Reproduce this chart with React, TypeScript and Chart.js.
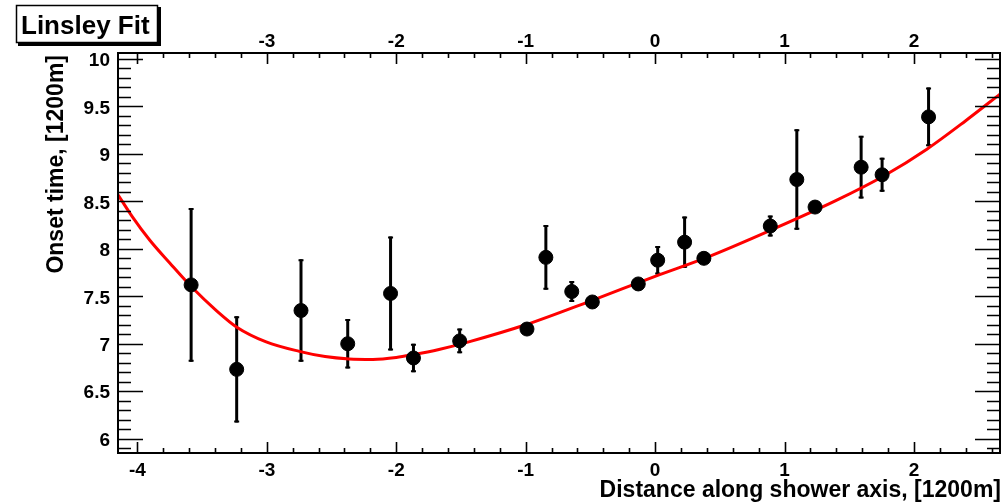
import React, { useEffect, useRef } from "react";
import { Chart, registerables } from "chart.js";

Chart.register(...registerables);

// ---- data ----
const pointX = [-3.585, -3.233, -2.736, -2.375, -2.044, -1.867, -1.51, -0.99, -0.844, -0.644, -0.485, -0.13, 0.02, 0.228, 0.377, 0.89, 1.095, 1.236, 1.592, 1.754, 2.113];
const pointY = [7.62, 6.73, 7.35, 7.0, 7.53, 6.85, 7.03, 7.155, 7.91, 7.55, 7.44, 7.63, 7.88, 8.07, 7.9, 8.24, 8.73, 8.44, 8.86, 8.78, 9.39];
const pointErr = [0.81, 0.56, 0.54, 0.26, 0.6, 0.15, 0.13, 0.03, 0.34, 0.11, 0.04, 0.04, 0.15, 0.27, 0.04, 0.11, 0.53, 0.04, 0.33, 0.18, 0.31];

const fitX = [-4.15, -4.04, -3.904, -3.75, -3.583, -3.39, -3.232, -3.005, -2.749, -2.55, -2.364, -2.18, -2.0, -1.87, -1.67, -1.44, -1.0, -0.5, 0.0, 0.4, 0.9, 1.4, 1.77, 2.1, 2.4, 2.665];
const fitY = [8.57, 8.34, 8.09, 7.85, 7.6, 7.35, 7.175, 7.02, 6.92, 6.865, 6.84, 6.835, 6.855, 6.885, 6.94, 7.02, 7.2, 7.45, 7.71, 7.91, 8.2, 8.51, 8.77, 9.05, 9.35, 9.63];

const xMajorTicks = [-4, -3, -2, -1, 0, 1, 2];
const xTickLabels = ["-4", "-3", "-2", "-1", "0", "1", "2"];
const xTopTicks = [-3, -2, -1, 0, 1, 2];
const xTopLabels = ["-3", "-2", "-1", "0", "1", "2"];
const yMajorTicks = [6, 6.5, 7, 7.5, 8, 8.5, 9, 9.5, 10];
const yTickLabels = ["6", "6.5", "7", "7.5", "8", "8.5", "9", "9.5", "10"];

const titleText = "Linsley Fit";
const xTitle = "Distance along shower axis, [1200m]";
const yTitle = "Onset time, [1200m]";

const X_MIN = -4.15;
const X_MAX = 2.665;
const Y_MIN = 5.849;
const Y_MAX = 10.063;

const FONT = '"Liberation Sans", Arial, Helvetica, sans-serif';

const rootPlugin = {
  id: "rootPlugin",
  beforeDatasetsDraw(chart: any) {
    const ctx = chart.ctx;
    const xs = chart.scales.x;
    const ys = chart.scales.y;
    ctx.save();
    ctx.strokeStyle = "#000";
    ctx.lineCap = "butt";
    for (let i = 0; i < pointX.length; i++) {
      const px = xs.getPixelForValue(pointX[i]);
      const top = ys.getPixelForValue(pointY[i] + pointErr[i]);
      const bot = ys.getPixelForValue(pointY[i] - pointErr[i]);
      ctx.lineWidth = 3;
      ctx.beginPath();
      ctx.moveTo(px, top);
      ctx.lineTo(px, bot);
      ctx.stroke();
      ctx.lineWidth = 2;
      ctx.beginPath();
      ctx.moveTo(px - 2.5, top + 1);
      ctx.lineTo(px + 2.5, top + 1);
      ctx.moveTo(px - 2.5, bot - 1);
      ctx.lineTo(px + 2.5, bot - 1);
      ctx.stroke();
    }
    ctx.restore();
  },
  afterDraw(chart: any) {
    const ctx = chart.ctx;
    const xs = chart.scales.x;
    const ys = chart.scales.y;
    const a = chart.chartArea;
    ctx.save();
    ctx.strokeStyle = "#000";
    ctx.fillStyle = "#000";

    // ticks
    ctx.lineWidth = 1.6;
    ctx.beginPath();
    for (let k = 59; k <= 100; k++) {
      const v = k / 10;
      if (v < Y_MIN || v > Y_MAX) continue;
      const py = Math.round(ys.getPixelForValue(v)) + 0.5;
      const major = k % 5 === 0;
      const len = major ? 25 : 13;
      ctx.moveTo(a.left, py);
      ctx.lineTo(a.left + len, py);
      ctx.moveTo(a.right, py);
      ctx.lineTo(a.right - len, py);
    }
    for (let k = -20; k <= 13; k++) {
      const v = k / 5;
      if (v < X_MIN || v > X_MAX) continue;
      const px = Math.round(xs.getPixelForValue(v)) + 0.5;
      const major = k % 5 === 0;
      const len = major ? 11 : 5;
      ctx.moveTo(px, a.bottom);
      ctx.lineTo(px, a.bottom - len);
      ctx.moveTo(px, a.top);
      ctx.lineTo(px, a.top + len);
    }
    ctx.stroke();

    // frame
    ctx.lineWidth = 2;
    ctx.strokeRect(a.left, a.top, a.right - a.left, a.bottom - a.top);

    // tick labels
    ctx.font = `bold 19px ${FONT}`;
    ctx.textAlign = "right";
    ctx.textBaseline = "middle";
    yMajorTicks.forEach((v, i) => {
      ctx.fillText(yTickLabels[i], 110, ys.getPixelForValue(v) + 2);
    });
    ctx.textAlign = "center";
    ctx.textBaseline = "alphabetic";
    xMajorTicks.forEach((v, i) => {
      ctx.fillText(xTickLabels[i], xs.getPixelForValue(v), 476);
    });
    xTopTicks.forEach((v, i) => {
      ctx.fillText(xTopLabels[i], xs.getPixelForValue(v), 47);
    });

    // axis titles
    ctx.font = `bold 23px ${FONT}`;
    ctx.textAlign = "right";
    ctx.fillText(xTitle, 1001, 497);
    ctx.save();
    ctx.translate(63, 55);
    ctx.rotate(-Math.PI / 2);
    ctx.textAlign = "right";
    ctx.fillText(yTitle, 0, 0);
    ctx.restore();

    // title box
    ctx.fillStyle = "#000";
    ctx.fillRect(18, 7, 143, 39);
    ctx.fillStyle = "#fff";
    ctx.fillRect(16, 5, 142, 38);
    ctx.lineWidth = 1.5;
    ctx.strokeRect(16.5, 5.5, 141, 37);
    ctx.fillStyle = "#000";
    ctx.font = `bold 26px ${FONT}`;
    ctx.textAlign = "left";
    ctx.fillText(titleText, 21, 34);
    ctx.restore();
  },
};

export default function App() {
  const ref = useRef<HTMLCanvasElement | null>(null);
  useEffect(() => {
    if (!ref.current) return;
    const chart = new Chart(ref.current, {
      type: "scatter",
      data: {
        datasets: [
          {
            label: "data",
            data: pointX.map((x, i) => ({ x, y: pointY[i] })),
            backgroundColor: "#000",
            borderColor: "#000",
            pointRadius: 7,
            pointHoverRadius: 7,
            showLine: false,
          },
          {
            label: "fit",
            data: fitX.map((x, i) => ({ x, y: fitY[i] })),
            borderColor: "#ff0000",
            backgroundColor: "#ff0000",
            borderWidth: 3,
            pointRadius: 0,
            showLine: true,
            cubicInterpolationMode: "monotone",
          },
        ],
      },
      options: {
        responsive: false,
        maintainAspectRatio: false,
        animation: false,
        layout: { padding: { left: 118, top: 53, right: 5, bottom: 50 } },
        scales: {
          x: { type: "linear", min: X_MIN, max: X_MAX, display: false },
          y: { type: "linear", min: Y_MIN, max: Y_MAX, display: false },
        },
        plugins: { legend: { display: false }, tooltip: { enabled: false } },
      },
      plugins: [rootPlugin],
    });
    return () => chart.destroy();
  }, []);
  return (
    <div style={{ position: "absolute", left: 0, top: 0, width: 1008, height: 503, background: "#fff" }}>
      <canvas ref={ref} width={1008} height={503} style={{ display: "block" }} />
    </div>
  );
}
